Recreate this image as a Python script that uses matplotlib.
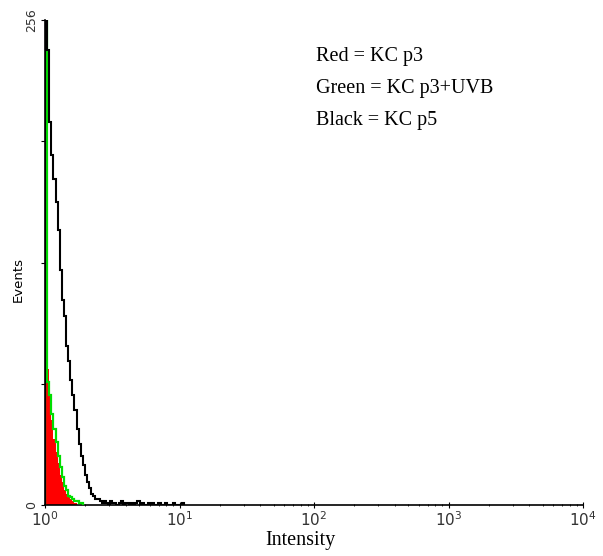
import numpy as np
import matplotlib
matplotlib.use("Agg")
import matplotlib.pyplot as plt

# Histogram counts per channel (256 channels over 4 decades, 64 per decade)
channels_per_decade = 64
red_counts = [80, 72, 58, 45, 35, 28, 22, 16, 12, 8, 6, 4, 3, 2, 1]
green_counts = [256, 65, 58, 48, 40, 33, 26, 20, 15, 10, 8, 5, 4, 3, 2, 2, 1, 1]
black_counts = [256, 240, 202, 185, 172, 160, 145, 124, 108, 100, 84, 76, 66, 58, 50,
                40, 32, 26, 21, 16, 12, 9, 6, 5, 3, 3, 2, 1, 2, 1, 0, 2, 1, 1, 0, 1,
                2, 0, 1, 1, 0, 1, 0, 1, 2, 0, 1, 0, 0, 1, 0, 1, 0, 0, 1, 0, 0, 1, 0,
                0, 0, 1, 0, 0, 0, 1]
legend_lines = ["Red = KC p3", "Green = KC p3+UVB", "Black = KC p5"]
x_tick_labels = ["$10^{0}$", "$10^{1}$", "$10^{2}$", "$10^{3}$", "$10^{4}$"]
y_tick_values = [0, 64, 128, 192, 256]
y_tick_labels = ["0", "", "", "", "256"]

def edges_for(n):
    return 10 ** (np.arange(n + 1) / channels_per_decade)

fig = plt.figure(figsize=(6.03, 5.56), dpi=100)
ax = fig.add_axes([45 / 603, 51 / 556, 538 / 603, 485 / 556])

ax.stairs(red_counts, edges_for(len(red_counts)), fill=True, color="#ff0000", zorder=2)
ax.stairs(green_counts, edges_for(len(green_counts)), color="#00dd00", lw=1.6, zorder=3)
ax.stairs(black_counts, edges_for(len(black_counts)), color="black", lw=1.5, zorder=4)

ax.set_xscale("log")
ax.set_xlim(1, 1e4)
ax.set_ylim(0, 256)
for s in ["top", "right"]:
    ax.spines[s].set_visible(False)
ax.spines["left"].set_linewidth(1.2)
ax.spines["bottom"].set_linewidth(1.2)

ax.set_xticks([1, 10, 100, 1000, 10000])
ax.set_xticklabels(x_tick_labels, fontsize=11, color="#333333")
ax.xaxis.set_minor_locator(matplotlib.ticker.LogLocator(base=10, subs=np.arange(2, 10)))
ax.xaxis.set_minor_formatter(matplotlib.ticker.NullFormatter())
ax.tick_params(axis="x", which="major", length=4, direction="inout", pad=2)
ax.tick_params(axis="x", which="minor", length=2, direction="inout")

ax.set_yticks(y_tick_values)
ax.set_yticklabels(y_tick_labels, fontsize=9, rotation=90, va="center", color="#333333")
ax.tick_params(axis="y", length=3, pad=2)

fig.text(300 / 603, 1 - 541 / 556, "Intensity", fontsize=14.5,
         family="Liberation Serif", ha="center", va="center")
fig.text(18 / 603, 1 - 280 / 556, "Events", fontsize=9.5, rotation=90,
         ha="center", va="center")

for i, t in enumerate(legend_lines):
    fig.text(316 / 603, 1 - (57 + i * 31.5) / 556, t, fontsize=14.5,
             family="Liberation Serif", va="center", ha="left")

fig.savefig("out.png", dpi=100)
